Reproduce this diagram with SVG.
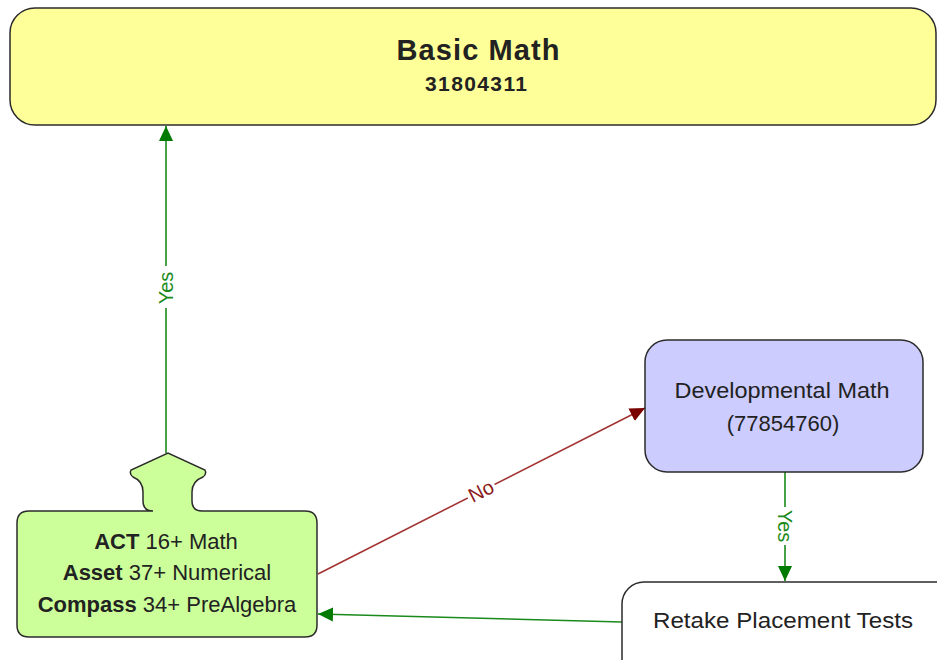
<svg xmlns="http://www.w3.org/2000/svg" width="937" height="660" viewBox="0 0 937 660">
<style>
  .node { stroke: #2b2b2b; stroke-width: 1.5; }
  .t { font-family: "Liberation Sans", Arial, sans-serif; fill: #222; text-anchor: middle; }
  .b { font-weight: bold; }
  .lbl { font-family: "Liberation Sans", Arial, sans-serif; font-size: 20px; text-anchor: middle; }
  .g { stroke: #1a8a1a; stroke-width: 1.6; fill: none; }
  .r { stroke: #a33333; stroke-width: 1.6; fill: none; }
</style>
<defs>
  <marker id="ag" markerUnits="userSpaceOnUse" markerWidth="16" markerHeight="16" viewBox="0 0 16 16" refX="15" refY="8" orient="auto">
    <path d="M0,1 L15,8 L0,15 Z" fill="#007a00"/>
  </marker>
  <marker id="ar" markerUnits="userSpaceOnUse" markerWidth="16" markerHeight="16" viewBox="0 0 16 16" refX="15" refY="8" orient="auto">
    <path d="M0,1 L15,8 L0,15 Z" fill="#7a0000"/>
  </marker>
</defs>

<rect width="937" height="660" fill="#ffffff"/>

<g id="connectors">
  <g id="e-yes1">
    <line class="g" x1="166" y1="453" x2="166" y2="126" marker-end="url(#ag)"/>
    <rect x="156" y="266" width="20" height="42" fill="#ffffff"/>
    <text class="lbl" fill="#1a8a1a" transform="translate(166,288) rotate(-90)" y="7">Yes</text>
  </g>
  <g id="e-no">
    <line class="r" x1="318" y1="574" x2="645" y2="408" marker-end="url(#ar)"/>
    <g transform="translate(481,491) rotate(-26.9)">
      <rect x="-15" y="-9" width="30" height="18" fill="#ffffff"/>
      <text class="lbl" fill="#8b1a1a" y="7">No</text>
    </g>
  </g>
  <g id="e-yes2">
    <line class="g" x1="785" y1="472" x2="785" y2="581" marker-end="url(#ag)"/>
    <rect x="775" y="507" width="20" height="38" fill="#ffffff"/>
    <text class="lbl" fill="#1a8a1a" transform="translate(785,526) rotate(90)" y="7">Yes</text>
  </g>
  <g id="e-retake">
    <line class="g" x1="622" y1="622" x2="318" y2="614" marker-end="url(#ag)"/>
  </g>
</g>

<g id="basic-math">
  <rect class="node" x="10" y="8" width="926" height="117" rx="25" ry="25" fill="#ffff99"/>
  <text class="t b" x="478" y="60" font-size="29" textLength="163" lengthAdjust="spacing">Basic Math</text>
  <text class="t b" x="476" y="91" font-size="21" textLength="102" lengthAdjust="spacing">31804311</text>
</g>

<g id="placement">
  <path class="node" fill="#ccff99" d="M29,511 L153,511 Q143,511 143,501 L143,492 Q143,481 133,477 Q129,474 131,470 L168,453 L205,470 Q207,474 203,477 Q192,481 192,492 L192,501 Q192,511 202,511 L305,511 Q317,511 317,523 L317,625 Q317,637 305,637 L29,637 Q17,637 17,625 L17,523 Q17,511 29,511 Z"/>
  <text class="t" x="166" y="549" font-size="22"><tspan class="b">ACT</tspan> 16+ Math</text>
  <text class="t" x="167" y="580" font-size="22"><tspan class="b">Asset</tspan> 37+ Numerical</text>
  <text class="t" x="167" y="612" font-size="22"><tspan class="b">Compass</tspan> 34+ PreAlgebra</text>
</g>

<g id="developmental-math">
  <rect class="node" x="645" y="340" width="278" height="132" rx="22" ry="22" fill="#ccccff"/>
  <text class="t" x="782" y="398" font-size="22" fill="#333" textLength="215" lengthAdjust="spacingAndGlyphs">Developmental Math</text>
  <text class="t" x="783" y="431" font-size="22" fill="#333">(77854760)</text>
</g>

<g id="retake">
  <rect class="node" x="622" y="582" width="340" height="110" rx="22" ry="22" fill="#ffffff"/>
  <text class="t" x="783" y="628" font-size="22" fill="#333" textLength="260" lengthAdjust="spacingAndGlyphs">Retake Placement Tests</text>
</g>
</svg>
